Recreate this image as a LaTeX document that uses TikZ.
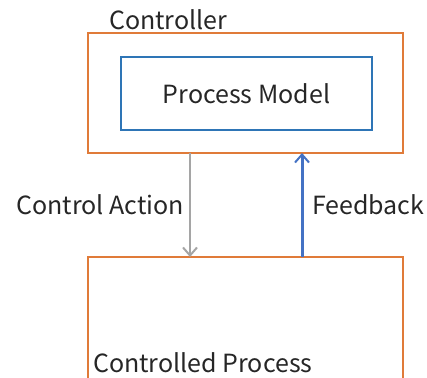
\documentclass[tikz,border=0pt]{standalone}
\usepackage{fontspec}
\setmainfont{Noto Sans CJK KR}
\usetikzlibrary{arrows.meta}
\definecolor{orangeb}{HTML}{E07B39}
\definecolor{blueb}{HTML}{2E75B6}
\definecolor{bluea}{HTML}{4472C4}
\definecolor{graya}{HTML}{A5A5A5}
\definecolor{txt}{HTML}{262626}
\begin{document}
\begin{tikzpicture}[x=1pt,y=-1pt,
  outerbox/.style={draw=orangeb,line width=1.4pt,rectangle,inner sep=0pt},
  innerbox/.style={draw=blueb,line width=1.2pt,rectangle,inner sep=0pt},
  lbl/.style={text=txt,font=\fontsize{25}{28}\selectfont,inner sep=0pt},
  arr/.style={line width=#1,-{Straight Barb[length=8pt,width=14pt,line width=2pt]}}]
\clip (0,0) rectangle (427,377);
\node[outerbox,minimum width=315pt,minimum height=120pt] (ctrl) at (245.5,93) {};
\node[innerbox,minimum width=251pt,minimum height=73pt,lbl] (pm) at (246.5,93.5) {Process Model};
\node[lbl,anchor=west] (ctrllbl) at (109,20) {Controller};
\node[outerbox,minimum width=315pt,minimum height=160pt] (proc) at (245.5,337) {};
\node[lbl,anchor=west] (proclbl) at (93,363) {Controlled Process};
\coordinate (a1) at (190,153);
\coordinate (a2) at (190,257);
\coordinate (b1) at (302,257);
\coordinate (b2) at (302,153);
\draw[draw=graya,arr=2.2pt] (a1) -- (a2);
\draw[draw=bluea,arr=3pt] (b1) -- (b2);
\node[lbl,anchor=east] (ca) at (184,205) {Control Action};
\node[lbl,anchor=west] (fb) at (312,205) {Feedback};
\end{tikzpicture}
\end{document}
